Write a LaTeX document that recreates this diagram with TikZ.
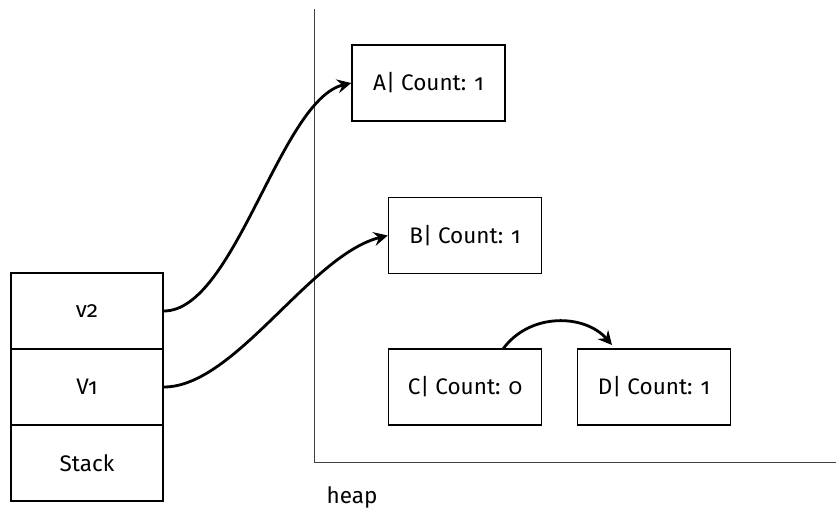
\documentclass[tikz,border=0pt]{standalone}
\usepackage{fontspec}
\setmainfont[Numbers=OldStyle]{Fira Sans}
\usetikzlibrary{arrows.meta}
\begin{document}
\begin{tikzpicture}[x=1pt,y=-1pt,
  lbl/.style={font=\fontsize{22.5}{27}\selectfont},
  box/.style={lbl,draw=black,line width=1.6pt,minimum width=153pt,minimum height=76pt,
    inner sep=0pt},
  cell/.style={lbl,draw=black,line width=1.6pt,minimum width=152pt,minimum height=76pt,
    inner sep=0pt},
  axis/.style={draw=black!75,line width=1pt},
  link/.style={draw=black,line width=2.8pt,
    -{Stealth[length=14pt,width=14pt,inset=5pt]}}]
\useasboundingbox (0,0) rectangle (836,514);

% heap axes
\coordinate (ytop) at (314,9);
\coordinate (orig) at (314,462);
\coordinate (xend) at (836,462);
\draw[axis] (ytop) -- (orig) -- (xend);
\node[lbl] (heap) at (352,497) {heap};

% stack cells
\node[cell] (v2) at (87,311) {v2};
\node[cell] (v1) at (87,387) {V1};
\node[cell] (stack) at (87,463) {Stack};

% heap objects
\node[box] (A) at (428.5,83) {A| Count: 1};
\node[box] (B) at (465,235.5) {B| Count: 1};
\node[box] (C) at (465,387) {C| Count: 0};
\node[box] (D) at (654,387) {D| Count: 1};

% references
\draw[link] (v2.east) .. controls (235,311) and (280,100) .. (A.west);
\draw[link] (v1.east) .. controls (235,387) and (310,255) .. (B.west);
\coordinate (ctop) at (503,349);
\coordinate (dtop) at (612,345);
\draw[link] (ctop) .. controls (530,312) and (585,314) .. (dtop);
\end{tikzpicture}
\end{document}
